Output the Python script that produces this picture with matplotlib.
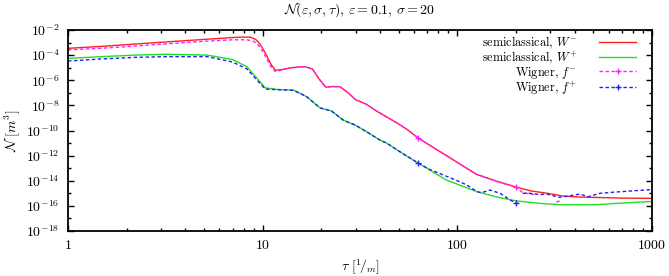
import numpy as np
import matplotlib
matplotlib.use("Agg")
import matplotlib.pyplot as plt
from matplotlib.ticker import FixedLocator, NullFormatter

plt.rcParams['mathtext.fontset'] = 'cm'
plt.rcParams['font.family'] = 'serif'
plt.rcParams['font.serif'] = ['cmr10', 'DejaVu Serif']
plt.rcParams['axes.unicode_minus'] = False
plt.rcParams['axes.formatter.use_mathtext'] = True

# ---- data (tau in 1/m, exponent of N in m^3) ----
tau_Wm = [1, 1.5, 2.2, 3.2, 5, 7, 8.0, 8.7, 9.2, 9.6, 10.0, 10.5, 11.0, 11.6, 12.5, 14, 16.5, 18,
          19.5, 21.1, 23, 25, 27.5, 30, 34, 38, 42, 49, 55, 63, 77, 88, 105, 126, 160, 200, 237,
          290, 350, 430, 520, 700, 1000]
exp_Wm = [-3.46, -3.3, -3.12, -2.95, -2.75, -2.6, -2.56, -2.58, -2.75, -3.05, -3.45, -4.05, -4.7,
          -5.2, -5.15, -5.0, -4.92, -5.1, -5.9, -6.55, -6.5, -6.52, -7.0, -7.55, -7.9, -8.4, -8.8,
          -9.4, -9.9, -10.6, -11.45, -12.0, -12.75, -13.5, -14.05, -14.5, -14.8, -15.0, -15.22,
          -15.3, -15.33, -15.38, -15.4]

tau_Wp = [1, 1.5, 2.2, 3.2, 5.2, 7.0, 8.3, 9.3, 10.3, 11.8, 14.4, 16.8, 19.7, 22.6, 25.9, 29.8,
          34.2, 40, 43.3, 52, 63, 75, 88, 105, 126, 160, 200, 265, 336, 520, 750, 1000]
exp_Wp = [-4.26, -4.12, -4.0, -3.93, -4.0, -4.35, -4.92, -5.8, -6.6, -6.73, -6.78, -7.3, -8.2,
          -8.45, -9.17, -9.56, -10.1, -10.76, -11.0, -11.8, -12.6, -13.3, -13.95, -14.4, -14.87,
          -15.3, -15.6, -15.8, -15.9, -15.9, -15.75, -15.65]

tau_fm = [1, 1.5, 2.2, 3.2, 5, 7, 8.3, 9.0, 9.5, 10.0, 10.5, 11.0, 11.6, 12.5, 14, 16.5, 18, 19.5,
          21.1, 23, 25, 27.5, 30, 34, 38, 42, 49, 55, 63, 77, 88, 105, 126, 160, 200, 217, 237,
          255, 290, 322, 342]
exp_fm = [-3.58, -3.45, -3.28, -3.1, -2.9, -2.78, -2.78, -2.9, -3.2, -3.7, -4.3, -4.9, -5.3, -5.2,
          -5.0, -4.92, -5.1, -5.9, -6.55, -6.5, -6.52, -7.0, -7.55, -7.9, -8.4, -8.8, -9.4, -9.9,
          -10.6, -11.45, -12.0, -12.75, -13.5, -14.05, -14.5, -14.95, -15.05, -15.12, np.nan,
          -15.67, -15.6]

tau_fp = [1, 1.5, 2.2, 3.2, 5.2, 7.0, 8.3, 9.3, 10.3, 11.8, 14.4, 16.8, 19.7, 22.6, 25.9, 29.8,
          34.2, 40, 43.3, 52, 63, 72, 85, 100, 112, 126, 133, 147, 166, 187, 200, 208, 217, 237,
          265, 288, 335, 377, 426, 470, 540, 650, 772, 1000]
exp_fp = [-4.47, -4.3, -4.18, -4.12, -4.12, -4.55, -5.1, -5.95, -6.7, -6.75, -6.8, -7.3, -8.2,
          -8.45, -9.17, -9.56, -10.1, -10.76, -11.0, -11.8, -12.6, -13.1, -13.55, -14.0, -14.34,
          -14.87, -14.95, -14.74, -15.0, -15.53, -15.78, np.nan, -15.0, -15.0, -15.1, -15.06,
          -15.32, -15.2, -15.06, -15.27, -15.0, -14.9, -14.82, -14.7]

marker_taus = [63, 200]

labels = ['semiclassical, $W^{-}$', 'semiclassical, $W^{+}$', 'Wigner, $f^{-}$', 'Wigner, $f^{+}$']
colors = ['#ff2020', '#20e020', '#ff20ff', '#2020ff']

x_ticks = [1, 10, 100, 1000]
x_ticklabels = ['$1$', '$10$', '$100$', '$1000$']
y_exps = [-18, -16, -14, -12, -10, -8, -6, -4, -2]

fig = plt.figure(figsize=(6.69, 2.76), dpi=100)
ax = fig.add_axes([68/669, 1-231/276, (652-68)/669, (231-30)/276])

def marks(t):
    return [t.index(m) for m in marker_taus]

ax.plot(tau_Wm, 10.0**np.array(exp_Wm), color=colors[0], lw=1.0, label=labels[0])
ax.plot(tau_Wp, 10.0**np.array(exp_Wp), color=colors[1], lw=1.0, label=labels[1])
ax.plot(tau_fm, 10.0**np.array(exp_fm), color=colors[2], lw=1.0, ls=(0, (2.5, 1.8)),
        marker='+', ms=5, mew=1.0, markevery=marks(tau_fm), label=labels[2])
ax.plot(tau_fp, 10.0**np.array(exp_fp), color=colors[3], lw=1.0, ls=(0, (2.5, 1.8)),
        marker='+', ms=5, mew=1.0, markevery=marks(tau_fp), label=labels[3])

ax.set_xscale('log')
ax.set_yscale('log')
ax.set_xlim(1, 1000)
ax.set_ylim(1e-18, 1e-2)

ax.xaxis.set_major_locator(FixedLocator(x_ticks))
ax.set_xticklabels(x_ticklabels)
minor_x = [m * 10**d for d in range(0, 3) for m in range(2, 10)]
ax.xaxis.set_minor_locator(FixedLocator(minor_x))
ax.xaxis.set_minor_formatter(NullFormatter())

ax.yaxis.set_major_locator(FixedLocator([10.0**e for e in y_exps]))
ax.set_yticklabels(['$10^{%d}$' % e for e in y_exps])
ax.yaxis.set_minor_locator(FixedLocator([10.0**(e + 1) for e in y_exps[:-1]]))
ax.yaxis.set_minor_formatter(NullFormatter())

ax.tick_params(which='both', direction='in', top=True, right=True, labelsize=10, width=1.0)
ax.tick_params(which='major', length=4.5, pad=6)
ax.tick_params(which='minor', length=2.5)
for s in ax.spines.values():
    s.set_linewidth(1.3)

ax.set_title(r'$\mathcal{N}(\varepsilon,\sigma,\tau)$, $\varepsilon=0.1$, $\sigma=20$',
             fontsize=10, pad=12)
ax.set_xlabel(r'$\tau\ [{}^{1}\!/_{m}]$', fontsize=10, labelpad=4)
ax.set_ylabel(r'$\mathcal{N}\ [m^{3}]$', fontsize=10)
ax.yaxis.set_label_coords(-0.078, 0.5)

leg = ax.legend(loc='upper right', bbox_to_anchor=(0.9726, 0.975), frameon=False,
                markerfirst=False, fontsize=8.8, handlelength=3.0, handletextpad=1.8,
                labelspacing=-0.12, borderaxespad=0.0, borderpad=0.0)

fig.savefig('out.png', dpi=100)
